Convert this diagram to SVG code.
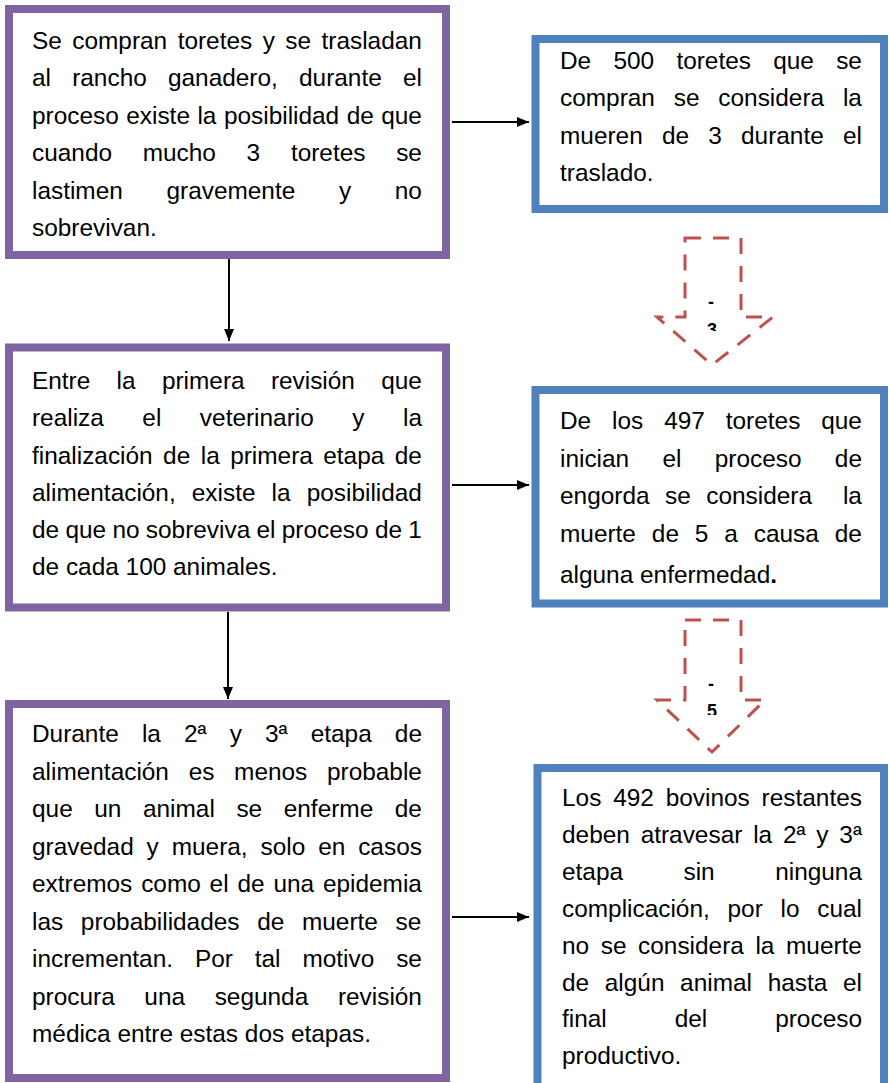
<svg xmlns="http://www.w3.org/2000/svg" width="890" height="1083" viewBox="0 0 890 1083">
<defs>
<style>
.purple{fill:#fff;stroke:#8064A2;stroke-width:8}
.blue{fill:#fff;stroke:#4F81BD;stroke-width:8}
.t{font-family:"Liberation Sans",Arial,sans-serif;font-size:24.4px;fill:#000}
.conn{stroke:#000;stroke-width:2;fill:none;marker-end:url(#ah)}
.blk{fill:#fff;stroke:#C0504D;stroke-width:3;stroke-dasharray:16 12}
.bt{font-family:"Liberation Sans",Arial,sans-serif;font-size:18px;font-weight:bold;fill:#000;text-anchor:middle}
</style>
<marker id="ah" markerUnits="userSpaceOnUse" markerWidth="12" markerHeight="10" refX="12" refY="5" orient="auto">
<path d="M0,0 L12,5 L0,10 z" fill="#000"/>
</marker>
<clipPath id="c1"><rect x="680" y="290" width="66" height="41"/></clipPath>
<clipPath id="c2"><rect x="680" y="672" width="66" height="43"/></clipPath>
</defs>
<rect width="890" height="1083" fill="#fff"/>

<g id="connectors">
<line class="conn" x1="452" y1="122" x2="529" y2="122"/>
<line class="conn" x1="229" y1="250" x2="229" y2="341"/>
<line class="conn" x1="452" y1="485" x2="529" y2="485"/>
<line class="conn" x1="228" y1="612" x2="228" y2="699"/>
<line class="conn" x1="452" y1="917" x2="529" y2="917"/>
</g>

<g id="node1">
<rect class="purple" x="9" y="9" width="437" height="246"/>
<text class="t">
<tspan x="32" y="48.5" word-spacing="3.68">Se compran toretes y se trasladan</tspan>
<tspan x="32" y="86" word-spacing="14.42">al rancho ganadero, durante el</tspan>
<tspan x="32" y="123.5" word-spacing="0.70">proceso existe la posibilidad de que</tspan>
<tspan x="32" y="161" word-spacing="23.92">cuando mucho 3 toretes se</tspan>
<tspan x="32" y="198.5" word-spacing="36.88">lastimen gravemente y no</tspan>
<tspan x="32" y="236">sobrevivan.</tspan>
</text>
</g>

<g id="node2">
<rect class="blue" x="535.5" y="39" width="348.5" height="170"/>
<text class="t">
<tspan x="560" y="68.5" word-spacing="15.48">De 500 toretes que se</tspan>
<tspan x="560" y="106" word-spacing="12.07">compran se considera la</tspan>
<tspan x="560" y="143.5" word-spacing="12.43">mueren de 3 durante el</tspan>
<tspan x="560" y="181">traslado.</tspan>
</text>
</g>

<g id="arrow1">
<polygon class="blk" points="685,238 741,238 741,317 773,317 712,365 657,317 685,317"/>
<g clip-path="url(#c1)">
<text class="bt" x="711" y="308">-</text>
<text class="bt" x="712" y="336">3</text>
</g>
</g>

<g id="node3">
<rect class="purple" x="9" y="347.5" width="437" height="260"/>
<text class="t">
<tspan x="32" y="389" word-spacing="19.53">Entre la primera revisión que</tspan>
<tspan x="32" y="426" word-spacing="31.74">realiza el veterinario y la</tspan>
<tspan x="32" y="463.5" word-spacing="3.68">finalización de la primera etapa de</tspan>
<tspan x="32" y="501" word-spacing="9.31">alimentación, existe la posibilidad</tspan>
<tspan x="32" y="538" word-spacing="-0.48">de que no sobreviva el proceso de 1</tspan>
<tspan x="32" y="575">de cada 100 animales.</tspan>
</text>
</g>

<g id="node4">
<rect class="blue" x="535.5" y="390" width="348.5" height="213.5"/>
<text class="t">
<tspan x="560" y="429" word-spacing="14.13">De los 497 toretes que</tspan>
<tspan x="560" y="466.5" word-spacing="26.53">inician el proceso de</tspan>
<tspan x="560" y="504" word-spacing="8.70" xml:space="preserve">engorda se considera  la</tspan>
<tspan x="560" y="541.5" word-spacing="9.13">muerte de 5 a causa de</tspan>
<tspan x="560" y="583">alguna enfermedad<tspan font-weight="bold">.</tspan></tspan>
</text>
</g>

<g id="arrow2">
<polygon class="blk" points="685,620 741,620 741,700 765,700 712,752 657,700 685,700"/>
<g clip-path="url(#c2)">
<text class="bt" x="711" y="690">-</text>
<text class="bt" x="712" y="717">5</text>
</g>
</g>

<g id="node5">
<rect class="purple" x="9" y="704" width="437" height="374"/>
<text class="t">
<tspan x="32" y="742" word-spacing="16.33">Durante la 2ª y 3ª etapa de</tspan>
<tspan x="32" y="779.5" word-spacing="12.92">alimentación es menos probable</tspan>
<tspan x="32" y="817" word-spacing="14.80">que un animal se enferme de</tspan>
<tspan x="32" y="854.5" word-spacing="6.12">gravedad y muera, solo en casos</tspan>
<tspan x="32" y="892" word-spacing="2.06">extremos como el de una epidemia</tspan>
<tspan x="32" y="929.5" word-spacing="10.89">las probabilidades de muerte se</tspan>
<tspan x="32" y="967" word-spacing="15.12">incrementan. Por tal motivo se</tspan>
<tspan x="32" y="1004.5" word-spacing="22.86">procura una segunda revisión</tspan>
<tspan x="32" y="1042">médica entre estas dos etapas.</tspan>
</text>
</g>

<g id="node6">
<rect class="blue" x="537.5" y="768" width="346.5" height="320"/>
<text class="t">
<tspan x="562" y="806" word-spacing="5.06">Los 492 bovinos restantes</tspan>
<tspan x="562" y="842.5" word-spacing="4.04">deben atravesar la 2ª y 3ª</tspan>
<tspan x="562" y="879.5" word-spacing="53.69">etapa sin ninguna</tspan>
<tspan x="562" y="916.5" word-spacing="10.96">complicación, por lo cual</tspan>
<tspan x="562" y="953.5" word-spacing="4.82">no se considera la muerte</tspan>
<tspan x="562" y="990.5" word-spacing="8.88">de algún animal hasta el</tspan>
<tspan x="562" y="1027" word-spacing="61.17">final del proceso</tspan>
<tspan x="562" y="1064">productivo.</tspan>
</text>
</g>
</svg>
